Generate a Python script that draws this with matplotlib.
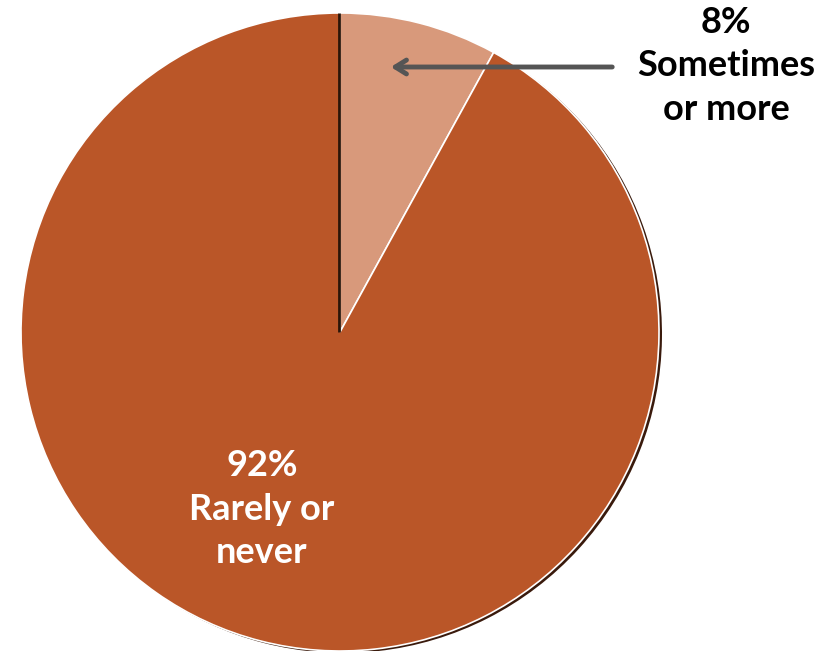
import matplotlib
matplotlib.use("Agg")
import matplotlib.pyplot as plt

labels = ["Sometimes\nor more", "Rarely or\nnever"]
values = [8, 92]
colors = ["#D8997B", "#BA5628"]

W, H = 833, 651
fig = plt.figure(figsize=(W / 100, H / 100), dpi=100)
ax = fig.add_axes([0, 0, 1, 1])

cx, cy, r = 340, H - 332, 319

# subtle shadow
ax.pie(values, startangle=90, counterclock=False, radius=r, center=(cx + 3, cy - 2),
       colors=["#3a1a0c", "#3a1a0c"], wedgeprops=dict(linewidth=0), frame=True)
wedges, _ = ax.pie(values, startangle=90, counterclock=False, radius=r, center=(cx, cy),
                   colors=colors, wedgeprops=dict(edgecolor="white", linewidth=1.2), frame=True)
# dark seam on left edge of the small slice
ax.plot([cx - 1, cx - 1], [cy, cy + r], color="#2a1408", lw=2, solid_capstyle="butt")

ax.set_xlim(0, W)
ax.set_ylim(0, H)
ax.set_aspect("equal")
ax.axis("off")

font = "Lato"
ax.text(726, H - 66, f"{values[0]}%\n{labels[0]}", ha="center", va="center",
        fontsize=26, fontweight="bold", family=font, color="black", linespacing=1.38)
ax.text(262, H - 509, f"{values[1]}%\n{labels[1]}", ha="center", va="center",
        fontsize=26, fontweight="bold", family=font, color="white", linespacing=1.38)

ax.annotate("", xy=(388, H - 67), xytext=(615, H - 67),
            arrowprops=dict(arrowstyle="->,head_length=0.8,head_width=0.5",
                            color="#555555", lw=3.5))

fig.savefig("out.png", dpi=100)
